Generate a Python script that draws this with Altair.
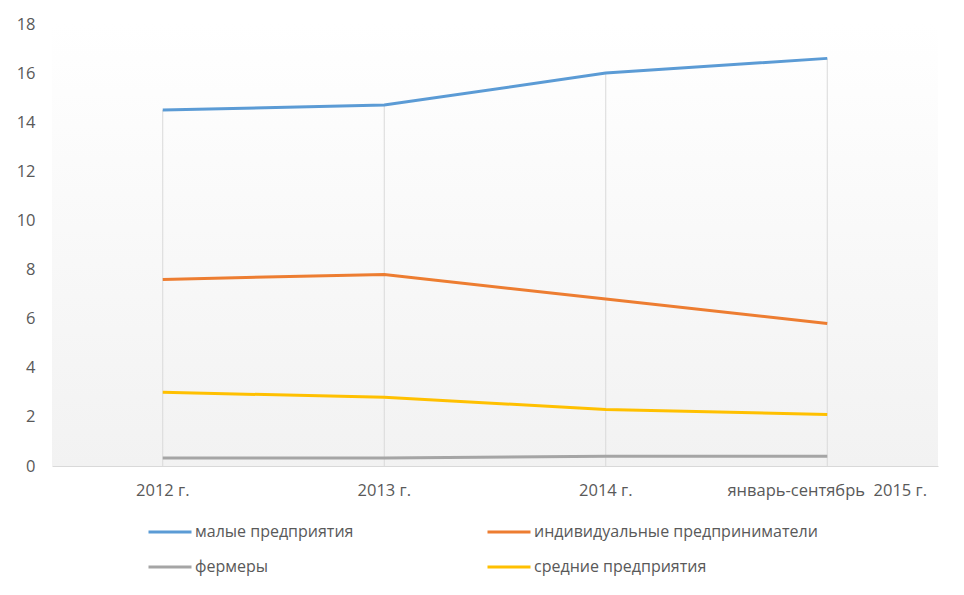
import altair as alt
import pandas as pd

categories = ["2012 г.", "2013 г.", "2014 г.", "январь-сентябрь\u00a0 2015 г."]
series_names = ["малые предприятия", "индивидуальные предприниматели", "фермеры", "средние предприятия"]
small = [14.5, 14.7, 16.0, 16.6]
individual = [7.6, 7.8, 6.8, 5.8]
farmers = [0.33, 0.33, 0.4, 0.4]
medium = [3.0, 2.8, 2.3, 2.1]
y_ticks = [0, 2, 4, 6, 8, 10, 12, 14, 16, 18]
colors = ["#5b9bd5", "#ed7d31", "#a5a5a5", "#ffc000"]

rows = []
for name, vals in zip(series_names, [small, individual, farmers, medium]):
    for c, v in zip(categories, vals):
        rows.append({"cat": c, "series": name, "value": v})
df = pd.DataFrame(rows)

drop = pd.DataFrame({"cat": categories,
                     "top": [max(a, b, c, d) for a, b, c, d in zip(small, individual, farmers, medium)],
                     "zero": [0] * len(categories)})

W, H = 886, 442
FONT = "Open Sans"

x_enc = alt.X("cat:N", sort=categories, scale=alt.Scale(paddingInner=0, paddingOuter=0),
              axis=alt.Axis(title=None, labelAngle=0, ticks=False, domainColor="#d9d9d9",
                            labelColor="#595959", labelFontSize=16.5, labelPadding=16, labelFont=FONT,
                            labelLimit=400))
y_scale = alt.Scale(domain=[0, 18], nice=False)

bg = alt.Chart(pd.DataFrame({"a": [0]})).mark_rect(
    color=alt.LinearGradient(gradient="linear", x1=0, x2=0, y1=0, y2=1,
                             stops=[alt.GradientStop(color="#ffffff", offset=0),
                                    alt.GradientStop(color="#f2f2f2", offset=1)])
).encode(x=alt.value(0), x2=alt.value(W), y=alt.value(0), y2=alt.value(H))

rules = alt.Chart(drop).mark_rule(color="#d9d9d9", strokeWidth=1).encode(
    x=x_enc,
    y=alt.Y("zero:Q", scale=y_scale,
            axis=alt.Axis(title=None, values=y_ticks, ticks=False, domain=False, grid=False,
                          labelColor="#595959", labelFontSize=16.5, labelPadding=17, labelFont=FONT)),
    y2="top:Q",
)

lines = alt.Chart(df).mark_line(strokeWidth=3).encode(
    x=x_enc,
    y=alt.Y("value:Q", scale=y_scale),
    color=alt.Color("series:N", sort=series_names,
                    scale=alt.Scale(domain=series_names, range=colors),
                    legend=alt.Legend(title=None, orient="none", legendX=95, legendY=485,
                                      columns=2, columnPadding=127, rowPadding=4,
                                      symbolType="stroke", symbolSize=1849, symbolStrokeWidth=3,
                                      labelFontSize=16, labelColor="#595959", labelFont=FONT,
                                      labelOffset=2, labelLimit=400, direction="horizontal")),
    order=alt.Order("cat_idx:Q"),
).transform_calculate(cat_idx="indexof(" + str(categories) + ", datum.cat)")

chart = alt.layer(bg, rules, lines).properties(
    width=W, height=H,
    autosize=alt.AutoSizeParams(type="none"),
    padding={"left": 44, "top": 16, "right": 18, "bottom": 121},
    background="#ffffff",
).configure_view(stroke=None)

chart.save("out.html", embed_options={"renderer": "svg", "actions": False})
